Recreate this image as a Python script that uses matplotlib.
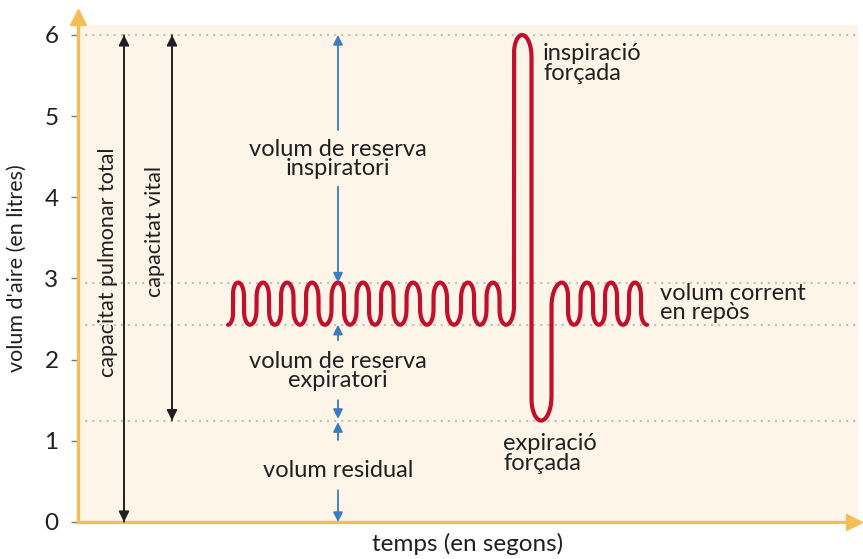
import numpy as np
import matplotlib
matplotlib.use("Agg")
import matplotlib.pyplot as plt

plt.rcParams['font.family'] = ['Lato', 'DejaVu Sans']

# spirogram turning points (time in s, volume in litres)
t_points = [15.0, 16.0, 17.2, 18.5, 19.7, 20.9, 22.2, 23.4, 24.7, 26.0, 27.2,
            28.5, 29.7, 30.9, 32.2, 33.5, 34.9, 36.2, 37.6, 39.0, 40.2, 41.5,
            42.8, 44.4, 46.3, 48.4, 49.6, 50.9, 52.1, 53.3, 54.5, 55.7, 56.9]
v_points = [2.43, 2.95, 2.43, 2.95, 2.43, 2.95, 2.43, 2.95, 2.43, 2.95, 2.43,
            2.95, 2.43, 2.95, 2.43, 2.95, 2.43, 2.95, 2.43, 2.95, 2.43, 2.95,
            2.43, 6.0, 1.25, 2.95, 2.43, 2.95, 2.43, 2.95, 2.43, 2.95, 2.43]

# reference levels (dotted lines)
levels = [6.0, 2.95, 2.43, 1.25]
yticks = [0, 1, 2, 3, 4, 5, 6]

total_capacity = (0.0, 6.0)
vital_capacity = (1.25, 6.0)

axis_col = '#f5bd55'
bg_col = '#fdf5e7'
red = '#c20f2c'
blue = '#3b7bbf'
dark = '#231f20'

fig = plt.figure(figsize=(8.63, 5.59), dpi=100)
ax = fig.add_axes([78 / 863, 37 / 559, 780 / 863, 497 / 559])
ax.set_facecolor(bg_col)
ax.set_xlim(0, 78)
ax.set_ylim(0, 6.123)

for lv in levels:
    ax.axhline(lv, color='#c4c4c4', lw=1.6, ls=(0, (1, 2.2)), zorder=1)

# rounded loops between turning points: elliptic caps joined by steep strokes
px_x = 780 / 78.0      # pixels per second
px_y = 497 / 6.123     # pixels per litre
xs, ys = [], []
for i in range(len(t_points) - 1):
    x0, x1 = t_points[i], t_points[i + 1]
    y0, y1 = v_points[i], v_points[i + 1]
    sg = 1 if y1 > y0 else -1
    w = (x1 - x0) / 2
    r = min(2.3 * w * px_x / px_y, abs(y1 - y0) / 2)
    th = np.linspace(0, np.pi / 2, 20)
    xs.extend(x0 + w * np.sin(th))
    ys.extend(y0 + sg * r * (1 - np.cos(th)))
    th = th[::-1]
    xs.extend(x1 - w * np.sin(th))
    ys.extend(y1 - sg * r * (1 - np.cos(th)))
ax.plot(xs, ys, color=red, lw=3.0, solid_capstyle='round', solid_joinstyle='round', zorder=3)

# black double arrows
def darrow(x, y0, y1):
    for a, b in [(y0, y1), (y1, y0)]:
        ax.annotate('', xy=(x, b), xytext=(x, a),
                    arrowprops=dict(arrowstyle='-|>', color=dark, lw=1.2,
                                    mutation_scale=16, shrinkA=0, shrinkB=0))

darrow(4.6, *total_capacity)
darrow(9.4, *vital_capacity)
ax.text(3.0, 3.2, 'capacitat pulmonar total', rotation=90, ha='center', va='center',
        fontsize=15.5, color=dark)
ax.text(7.7, 3.58, 'capacitat vital', rotation=90, ha='center', va='center',
        fontsize=15.5, color=dark)

# blue arrows
bx = 26.0
for y0, y1 in [(4.83, 6.0), (4.13, 2.95), (2.24, 2.43), (1.50, 1.27), (1.01, 1.23), (0.39, 0.0)]:
    ax.annotate('', xy=(bx, y1), xytext=(bx, y0),
                arrowprops=dict(arrowstyle='-|>', color=blue, lw=1.3,
                                mutation_scale=14, shrinkA=0, shrinkB=0))

fs = 17
ax.text(bx, 4.47, 'volum de reserva\ninspiratori', ha='center', va='center',
        fontsize=fs, color=dark, linespacing=0.92)
ax.text(bx, 1.86, 'volum de reserva\nexpiratori', ha='center', va='center',
        fontsize=fs, color=dark, linespacing=0.92)
ax.text(bx, 0.64, 'volum residual', ha='center', va='center', fontsize=fs, color=dark)

ax.text(46.5, 5.65, 'inspiració\nforçada', ha='left', va='center', fontsize=fs,
        color=dark, linespacing=0.92)
ax.text(42.5, 0.84, 'expiració\nforçada', ha='left', va='center', fontsize=fs,
        color=dark, linespacing=0.92)
ax.text(58.2, 2.70, 'volum corrent\nen repòs', ha='left', va='center', fontsize=fs,
        color=dark, linespacing=0.92)

# axes styling
for side in ['top', 'right']:
    ax.spines[side].set_visible(False)
for side in ['left', 'bottom']:
    ax.spines[side].set_color(axis_col)
    ax.spines[side].set_linewidth(2.4)
ax.set_xticks([])
ax.set_yticks(yticks)
ax.tick_params(axis='y', length=5, width=1, color='#777777', pad=9,
               labelsize=17.5, labelcolor=dark)
ax.plot([0], [1.017], marker='^', markersize=12, color=axis_col,
        transform=ax.transAxes, clip_on=False)
ax.plot([0.995], [0], marker='>', markersize=11, color=axis_col,
        transform=ax.transAxes, clip_on=False)

ax.set_ylabel("volum d'aire (en litres)", fontsize=15.5, color=dark)
ax.yaxis.set_label_coords(-0.066, 0.51)
ax.set_xlabel('temps (en segons)', fontsize=17.5, color=dark)
ax.xaxis.set_label_coords(0.5, -0.022)

fig.savefig('out.png', dpi=100, facecolor='white')
